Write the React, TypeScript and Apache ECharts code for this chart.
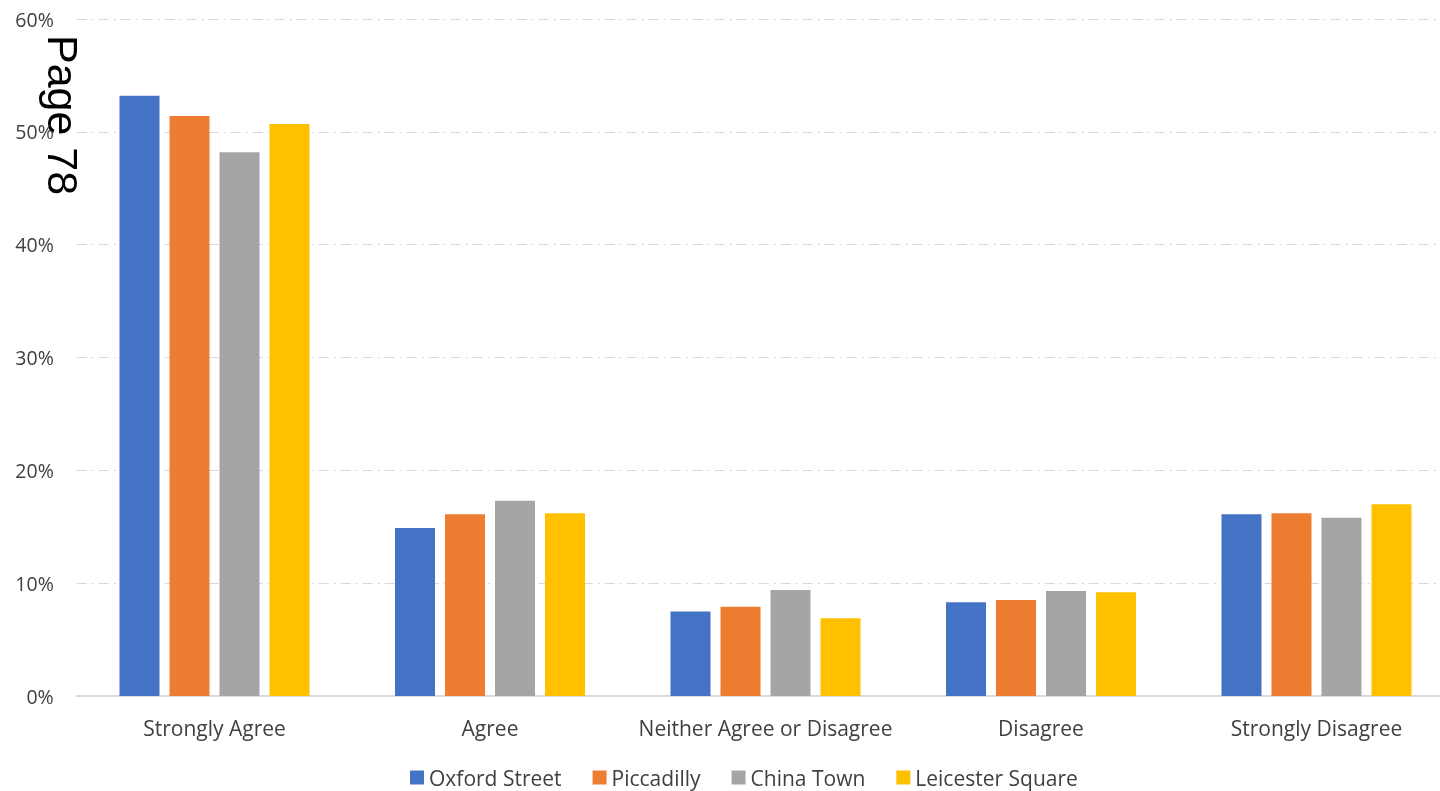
import React, { useEffect, useRef } from "react";
import * as echarts from "echarts";

const categories = ["Strongly Agree", "Agree", "Neither Agree or Disagree", "Disagree", "Strongly Disagree"];
const seriesNames = ["Oxford Street", "Piccadilly", "China Town", "Leicester Square"];
const oxfordStreet = [53.2, 14.9, 7.5, 8.3, 16.1];
const piccadilly = [51.4, 16.1, 7.9, 8.5, 16.2];
const chinaTown = [48.2, 17.3, 9.4, 9.3, 15.8];
const leicesterSquare = [50.7, 16.2, 6.9, 9.2, 17.0];
const colors = ["#4472C4", "#ED7D31", "#A5A5A5", "#FFC000"];

export default function App() {
  const ref = useRef<HTMLDivElement>(null);
  useEffect(() => {
    const chart = echarts.init(ref.current!, null, { renderer: "svg" });
    const data = [oxfordStreet, piccadilly, chinaTown, leicesterSquare];
    chart.setOption({
      animation: false,
      textStyle: { fontFamily: "Open Sans" },
      grid: { left: 76.75, top: 19, right: 5.75, bottom: 95, containLabel: false },
      legend: {
        top: 762,
        left: 405,
        itemWidth: 14,
        itemHeight: 14,
        itemGap: 31,
        icon: "rect",
        textStyle: { color: "#404040", fontSize: 21, fontFamily: "Open Sans" },
        data: seriesNames,
      },
      xAxis: {
        type: "category",
        data: categories,
        axisTick: { show: false },
        axisLine: { lineStyle: { color: "#D9D9D9", width: 2 } },
        axisLabel: { color: "#404040", fontSize: 21, margin: 21, interval: 0, fontFamily: "Open Sans" },
      },
      yAxis: {
        type: "value",
        min: 0,
        max: 60,
        interval: 10,
        axisLine: { show: false },
        axisTick: { show: false },
        axisLabel: { color: "#404040", fontSize: 19.5, margin: 23, formatter: "{value}%", fontFamily: "Open Sans" },
        splitLine: { lineStyle: { color: "#D9D9D9", width: 1, type: [10, 5, 2, 5] } },
      },
      series: data.map((d, i) => ({
        name: seriesNames[i],
        type: "bar",
        data: d,
        barWidth: 40,
        barGap: "25%",
        itemStyle: { color: colors[i] },
      })),
      graphic: [
        {
          type: "text",
          x: 84,
          y: 35,
          rotation: -Math.PI / 2,
          style: { text: "Page 78", fontSize: 43, fontFamily: "Liberation Sans", fill: "#000" },
        },
      ],
    });
    return () => chart.dispose();
  }, []);
  return <div ref={ref} style={{ position: "fixed", left: 0, top: 0, width: 1460, height: 791 }} />;
}
